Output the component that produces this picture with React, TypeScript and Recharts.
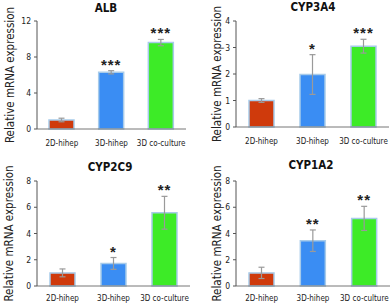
import React from "react";
import { BarChart, Bar, XAxis, YAxis, Cell, ErrorBar, LabelList, Label } from "recharts";

const categories = ["2D-hihep", "3D-hihep", "3D co-culture"];
const COLORS = ["#CF3A0C", "#3A8DF3", "#3DEB27"];

const albValues = [1.0, 6.3, 9.6];
const albErrors = [0.2, 0.18, 0.35];
const albStars = ["", "***", "***"];
const albTicks = [0, 4, 8, 12];

const cyp3a4Values = [1.0, 1.98, 3.05];
const cyp3a4Errors = [0.07, 0.75, 0.26];
const cyp3a4Stars = ["", "*", "***"];
const cyp3a4Ticks = [0, 1, 2, 3, 4];

const cyp2c9Values = [1.0, 1.72, 5.58];
const cyp2c9Errors = [0.3, 0.45, 1.25];
const cyp2c9Stars = ["", "*", "**"];
const cyp2c9Ticks = [0, 2, 4, 6, 8];

const cyp1a2Values = [1.0, 3.45, 5.15];
const cyp1a2Errors = [0.43, 0.82, 0.92];
const cyp1a2Stars = ["", "**", "**"];
const cyp1a2Ticks = [0, 2, 4, 6, 8];

const FONT = "'Liberation Sans Narrow', 'DejaVu Sans Condensed', 'Liberation Sans', sans-serif";

interface PanelProps {
    title: string;
    values: number[];
    errors: number[];
    stars: string[];
    ticks: number[];
    left: number;
    top: number;
    height: number;
    margin: { top: number; right: number; bottom: number; left: number };
    yWidth: number;
    labelX: number;
    titleX: number;
    titleY: number;
    tickGap: number;
}

const Panel: React.FC<PanelProps> = p => {
    const data = categories.map((name, i) => ({ name, value: p.values[i], err: p.errors[i], star: p.stars[i] }));

    const renderStar = (props: any) => {
        const { x, y, width, height, index } = props;
        const d = data[index];
        if (!d || !d.star) return null;
        const perUnit = height / d.value;
        const cy = y - d.err * perUnit - 9;
        return (
            <text x={x + width / 2} y={cy + 8} textAnchor="middle" fontSize={15} fontWeight="bold"
                fill="#222" letterSpacing={1} fontFamily="Arial, sans-serif">
                {d.star}
            </text>
        );
    };

    return (
        <div style={{ position: "absolute", left: p.left, top: p.top, width: 196, height: p.height }}>
            <div style={{
                position: "absolute", left: p.titleX - 50, top: p.titleY - 7, width: 100, textAlign: "center",
                fontFamily: FONT, fontWeight: "bold", fontSize: 11.5, color: "#111", lineHeight: "14px"
            }}>{p.title}</div>
            <BarChart width={196} height={p.height} data={data} margin={p.margin} barSize={25}>
                <XAxis dataKey="name" interval={0} tickLine={false} axisLine={{ stroke: "#777" }} height={16}
                    tick={{ fontSize: 8, fill: "#222", fontFamily: FONT }} tickMargin={p.tickGap} />
                <YAxis width={p.yWidth} domain={[0, p.ticks[p.ticks.length - 1]]} ticks={p.ticks} interval={0}
                    tickSize={3} tickLine={{ stroke: "#555" }} axisLine={{ stroke: "#555" }}
                    tick={{ fontSize: 8.5, fill: "#222", fontFamily: FONT }} tickMargin={3}>
                    <Label content={(lp: any) => {
                        const vb = lp.viewBox || {};
                        const cy = (vb.y || 0) + (vb.height || 0) / 2;
                        return (
                            <text x={p.labelX} y={cy} transform={`rotate(-90 ${p.labelX} ${cy})`} textAnchor="middle"
                                dominantBaseline="central" fontSize={11.5} fill="#222" fontFamily={FONT}>
                                Relative mRNA expression
                            </text>
                        );
                    }} />
                </YAxis>
                <Bar dataKey="value" stroke="#A7CBEA" strokeWidth={1.5} isAnimationActive={false}>
                    {data.map((entry, index) => <Cell key={index} fill={COLORS[index]} />)}
                    <ErrorBar dataKey="err" width={3} stroke="#9A9A9A" strokeWidth={1.2} direction="y" />
                    <LabelList dataKey="value" content={renderStar} />
                </Bar>
            </BarChart>
        </div>
    );
};

const App: React.FC = () => {
    return (
        <div style={{ position: "absolute", left: 0, top: 0, width: 392, height: 305, background: "#fff" }}>
            <Panel title="ALB" values={albValues} errors={albErrors} stars={albStars} ticks={albTicks}
                left={0} top={0} height={152} margin={{ top: 21, right: 10, bottom: 7, left: 0 }} yWidth={37}
                labelX={10} titleX={106} titleY={8} tickGap={5} />
            <Panel title="CYP3A4" values={cyp3a4Values} errors={cyp3a4Errors} stars={cyp3a4Stars} ticks={cyp3a4Ticks}
                left={196} top={0} height={152} margin={{ top: 21, right: 3, bottom: 9, left: 0 }} yWidth={40}
                labelX={21} titleX={117} titleY={7} tickGap={5} />
            <Panel title="CYP2C9" values={cyp2c9Values} errors={cyp2c9Errors} stars={cyp2c9Stars} ticks={cyp2c9Ticks}
                left={0} top={152} height={153} margin={{ top: 29, right: 6, bottom: 3, left: 0 }} yWidth={37}
                labelX={9} titleX={110} titleY={15} tickGap={3} />
            <Panel title="CYP1A2" values={cyp1a2Values} errors={cyp1a2Errors} stars={cyp1a2Stars} ticks={cyp1a2Ticks}
                left={196} top={152} height={153} margin={{ top: 29, right: 2, bottom: 3, left: 0 }} yWidth={40}
                labelX={21} titleX={115} titleY={13} tickGap={3} />
        </div>
    );
};

export default App;
